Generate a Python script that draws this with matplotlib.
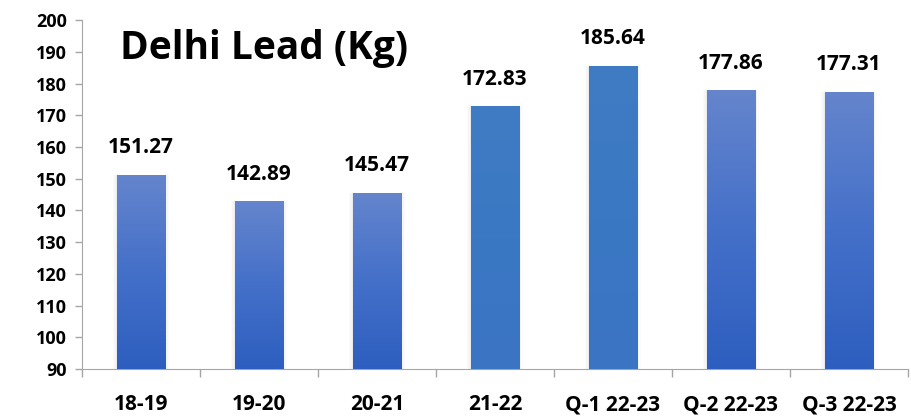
import matplotlib.pyplot as plt
import numpy as np
from matplotlib.colors import LinearSegmentedColormap

categories = ["18-19", "19-20", "20-21", "21-22", "Q-1 22-23", "Q-2 22-23", "Q-3 22-23"]
values = [151.27, 142.89, 145.47, 172.83, 185.64, 177.86, 177.31]
value_labels = ["151.27", "142.89", "145.47", "172.83", "185.64", "177.86", "177.31"]
flat_bars = [3, 4]

plt.rcParams["font.family"] = ["Open Sans", "DejaVu Sans"]
plt.rcParams["font.weight"] = "bold"

fig = plt.figure(figsize=(9.12, 4.18), dpi=100)
ax = fig.add_axes([0.0899, 0.117, 0.9056, 0.835])

x = np.arange(len(categories))
bars = ax.bar(x, values, width=0.41, bottom=0, color="none", zorder=2)

grad = LinearSegmentedColormap.from_list("g", ["#2d5ebf", "#4470c9", "#6585cd"])
flat = LinearSegmentedColormap.from_list("f", ["#3a74c4", "#3b78c3", "#3f7cc4"])
img = np.linspace(0, 1, 256).reshape(-1, 1)

for i, b in enumerate(bars):
    x0, w, h = b.get_x(), b.get_width(), b.get_height()
    # soft shadow
    for k, a in enumerate([0.04, 0.025, 0.015]):
        ax.add_patch(plt.Rectangle((x0 - 0.01 * (k + 1), 90), w + 0.02 * (k + 1), h - 90,
                                   color="#000000", alpha=a, lw=0, zorder=1))
    cmap = flat if i in flat_bars else grad
    im = ax.imshow(img, cmap=cmap, origin="lower", aspect="auto",
                   extent=[x0, x0 + w, 90, h], zorder=3)
    im.set_clip_path(b)
    ax.annotate(value_labels[i], (x[i], h), xytext=(0, 12), textcoords="offset points",
                ha="center", va="bottom", fontsize=15, fontweight="bold", color="#000000")

ax.set_ylim(90, 200)
ax.set_xlim(-0.5, len(categories) - 0.5)
ax.set_yticks(np.arange(90, 201, 10))
ax.tick_params(axis="y", labelsize=13, length=5, width=1, color="#a6a6a6", pad=6)
for t in ax.get_yticklabels():
    t.set_fontweight("bold")

ax.set_xticks(np.arange(-0.5, len(categories), 1))
ax.set_xticklabels([])
ax.tick_params(axis="x", which="major", length=6, width=1, color="#a6a6a6")
ax.set_xticks(x, minor=True)
ax.set_xticklabels(categories, minor=True, fontweight="bold")
ax.tick_params(axis="x", which="minor", length=0, labelsize=15, pad=18)

for s in ["top", "right"]:
    ax.spines[s].set_visible(False)
for s in ["left", "bottom"]:
    ax.spines[s].set_color("#a6a6a6")

fig.text(0.132, 0.885, "Delhi Lead (Kg)", fontsize=28, fontweight="bold", ha="left", va="center")

fig.savefig("out.png", dpi=100)
